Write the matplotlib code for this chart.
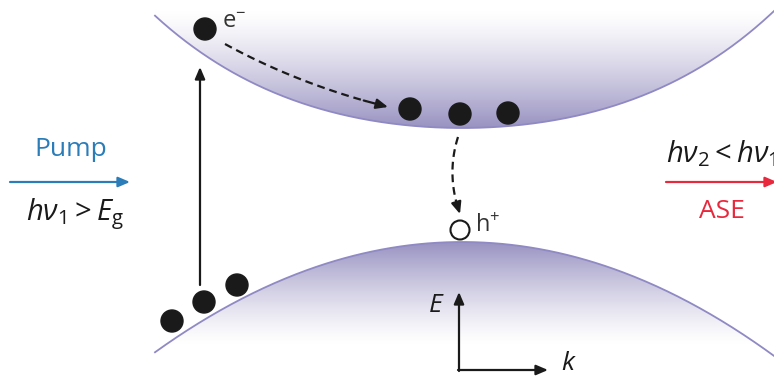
import numpy as np
import matplotlib
matplotlib.use("Agg")
import matplotlib.pyplot as plt
from matplotlib.patches import Circle, Polygon
from matplotlib.colors import LinearSegmentedColormap

plt.rcParams['font.family'] = ['Open Sans', 'DejaVu Sans']
plt.rcParams['mathtext.fontset'] = 'custom'
plt.rcParams['mathtext.rm'] = 'Open Sans'
plt.rcParams['mathtext.it'] = 'Open Sans:italic'
plt.rcParams['mathtext.bf'] = 'Open Sans:bold'

# band geometry (pixel units, y grows downward)
k_center = 462
cb_min = 128          # conduction band bottom
vb_max = 242          # valence band top
k_left, k_right = 155, 774

# carriers
electron_top = (205, 29)
electrons_cb = [(410, 109), (460, 114), (508, 113)]
electrons_vb = [(172, 321), (204, 302), (237, 285)]
hole = (460, 230)
dot_radius = 11

band_purple = '#9892c1'
edge_purple = '#8f89c4'
pump_blue = '#2a7db9'
ase_red = '#e8283c'
ink = '#1a1a1a'

fig = plt.figure(figsize=(7.74, 3.78), dpi=100)
ax = fig.add_axes([0, 0, 1, 1])
ax.set_xlim(0, 774)
ax.set_ylim(378, 0)
ax.axis('off')

x = np.linspace(k_left, k_right, 400)
dx = x - k_center
cb = cb_min - (8.9e-4 * dx**2 + 3.2e-9 * dx**4)
vb = vb_max + 1.17e-3 * dx**2

cmap = LinearSegmentedColormap.from_list('band', ['white', band_purple])

# conduction band: fades from the edge upward
ygrid = np.linspace(0, 378, 379)
t_cb = np.clip((ygrid - 10) / (cb_min - 10), 0, 1) ** 1.3
img = ax.imshow(t_cb[:, None], extent=[0, 774, 378, 0], cmap=cmap,
                vmin=0, vmax=1, aspect='auto', zorder=1)
poly = Polygon(np.column_stack([np.r_[x, k_right, k_left], np.r_[cb, -5, -5]]),
               closed=True, transform=ax.transData)
img.set_clip_path(poly)

# valence band: fades from the edge downward
t_vb = np.clip((345 - ygrid) / (345 - vb_max), 0, 1) ** 1.3
img2 = ax.imshow(t_vb[:, None], extent=[0, 774, 378, 0], cmap=cmap,
                 vmin=0, vmax=1, aspect='auto', zorder=1)
poly2 = Polygon(np.column_stack([np.r_[x, k_right, k_left], np.r_[vb, 400, 400]]),
                closed=True, transform=ax.transData)
img2.set_clip_path(poly2)

ax.plot(x, cb, color=edge_purple, lw=1.3, zorder=2)
ax.plot(x, vb, color=edge_purple, lw=1.3, zorder=2)

for cx, cy in [electron_top] + electrons_cb + electrons_vb:
    ax.add_patch(Circle((cx, cy), dot_radius, color=ink, zorder=5))
ax.add_patch(Circle(hole, 9.5, facecolor='white', edgecolor=ink, lw=1.5, zorder=5))

ax.text(222, 22, r'e$^{\mathregular{-}}$', fontsize=17, color='#333333',
        ha='left', va='center', zorder=6)
ax.text(475, 226, r'h$^{+}$', fontsize=17, color='#333333',
        ha='left', va='center', zorder=6)

head = '-|>,head_length=0.7,head_width=0.3'


def dashed_arrow(p0, pc, p1):
    t = np.linspace(0, 1, 80)[:, None]
    pts = (1 - t)**2 * np.array(p0) + 2 * (1 - t) * t * np.array(pc) + t**2 * np.array(p1)
    ax.plot(pts[:-10, 0], pts[:-10, 1], color=ink, lw=1.6,
            dashes=(3.5, 2.2), zorder=4)
    ax.annotate('', xy=p1, xytext=tuple(pts[-12]),
                arrowprops=dict(arrowstyle=head, color=ink, lw=1.6,
                                shrinkA=0, shrinkB=0),
                zorder=4)


def solid_arrow(start, end, color=ink):
    ax.annotate('', xy=end, xytext=start, annotation_clip=False,
                arrowprops=dict(arrowstyle=head, color=color, lw=1.6,
                                shrinkA=0, shrinkB=0))


dashed_arrow((225, 44), (300, 85), (388, 107))
dashed_arrow((458, 137), (446, 175), (460, 214))

# optical pumping transition
solid_arrow((200, 285), (200, 67))

# E-k axes
solid_arrow((459, 371), (459, 292))
solid_arrow((458, 370), (548, 370))
ax.text(436, 305, '$E$', fontsize=19, color=ink, ha='center', va='center')
ax.text(569, 364, '$k$', fontsize=19, color=ink, ha='center', va='center')

# pump and ASE beams
solid_arrow((10, 182), (130, 182), pump_blue)
ax.text(71, 150, 'Pump', fontsize=19, color=pump_blue, ha='center', va='center')
ax.text(26, 214, r'$h\nu_{1} > E_{\mathrm{g}}$', fontsize=21, color=ink,
        ha='left', va='center')

solid_arrow((666, 182), (777, 182), ase_red)
ax.text(722, 212, 'ASE', fontsize=19, color=ase_red, ha='center', va='center')
ax.text(666, 154, r'$h\nu_{2} < h\nu_{1}$', fontsize=21, color=ink,
        ha='left', va='center')

fig.savefig('out.png', dpi=100)
